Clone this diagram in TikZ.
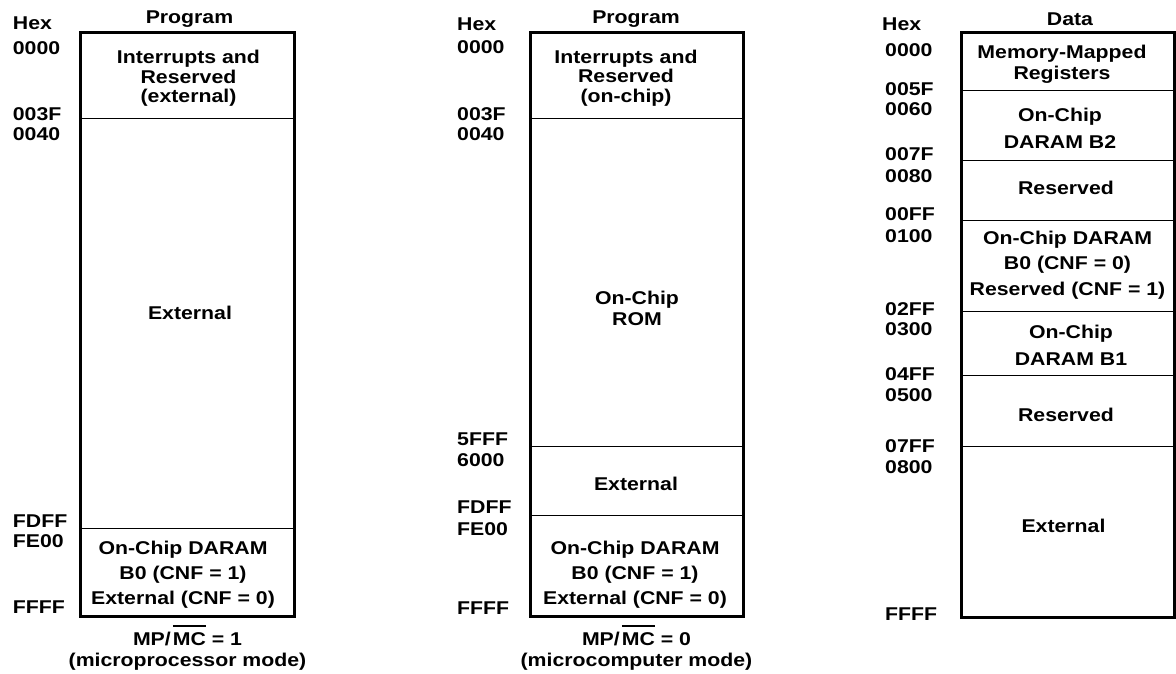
\documentclass[tikz,border=0pt]{standalone}
\usepackage{fontspec}
\setmainfont{Liberation Sans}[FakeStretch=1.15]
\newcommand\ovbar[1]{\setbox0\hbox{#1}\rlap{\rule[18.5pt]{\wd0}{2.2pt}}\box0\relax}
\tikzset{
  frame/.style={line width=3pt, line join=miter},
  divline/.style={line width=1pt},
  lbl/.style={inner sep=0pt, font=\fontsize{18.5}{22}\selectfont\bfseries},
  hexlbl/.style={lbl, anchor=base west},
  hdr/.style={lbl, anchor=base},
  one/.style={lbl, anchor=base},
  blk/.style={inner sep=0pt, align=center, anchor=center, font=\fontsize{18.5}{#1}\selectfont\bfseries},
}
\begin{document}
\begin{tikzpicture}[x=1pt,y=-1pt]
\useasboundingbox (0,0) rectangle (1176,673);

% ---------------- Left map: microprocessor mode ----------------
\node[hdr] (lprog) at (189.5,23) {Program};
\node[hexlbl] (lhex) at (12.7,29.3) {Hex};
\node[hexlbl] (l0000) at (12.7,54.3) {0000};
\node[hexlbl] (l003F) at (12.7,120) {003F};
\node[hexlbl] (l0040) at (12.7,140) {0040};
\node[hexlbl] (lFDFF) at (12.7,527) {FDFF};
\node[hexlbl] (lFE00) at (12.7,547) {FE00};
\node[hexlbl] (lFFFF) at (12.7,613) {FFFF};
\draw[frame] (80,32.7) rectangle (294,616.7);
\draw[divline] (80,118.3) -- (294,118.3);
\draw[divline] (80,528.3) -- (294,528.3);
\node[blk=19.5] (lint) at (188.5,78.5) {Interrupts and\\Reserved\\(external)};
\node[one] (lext) at (190,319.5) {External};
\node[blk=25] (lb0) at (183,574.5) {On-Chip DARAM\\B0 (CNF = 1)\\External (CNF = 0)};
\node[blk=21] (lcap) at (187.5,647.5) {MP/\kern2pt\ovbar{MC} = 1\\(microprocessor mode)};

% ---------------- Middle map: microcomputer mode ----------------
\node[hdr] (mprog) at (636,23) {Program};
\node[hexlbl] (mhex) at (457,30) {Hex};
\node[hexlbl] (m0000) at (457,53) {0000};
\node[hexlbl] (m003F) at (457,120) {003F};
\node[hexlbl] (m0040) at (457,140) {0040};
\node[hexlbl] (m5FFF) at (457,445) {5FFF};
\node[hexlbl] (m6000) at (457,466.7) {6000};
\node[hexlbl] (mFDFF) at (457,513) {FDFF};
\node[hexlbl] (mFE00) at (457,535) {FE00};
\node[hexlbl] (mFFFF) at (457,614) {FFFF};
\draw[frame] (530.7,32.7) rectangle (743.3,616);
\draw[divline] (530.7,118.3) -- (743.3,118.3);
\draw[divline] (530.7,446.7) -- (743.3,446.7);
\draw[divline] (530.7,515.7) -- (743.3,515.7);
\node[blk=19.5] (mint) at (626,78) {Interrupts and\\Reserved\\(on-chip)};
\node[blk=21] (mrom) at (637,308.5) {On-Chip\\ROM};
\node[one] (mext) at (636,490.6) {External};
\node[blk=25] (mb0) at (635,574.5) {On-Chip DARAM\\B0 (CNF = 1)\\External (CNF = 0)};
\node[blk=21] (mcap) at (636.5,647.5) {MP/\kern2pt\ovbar{MC} = 0\\(microcomputer mode)};

% ---------------- Right map: data ----------------
\node[hdr] (ddata) at (1070,25) {Data};
\node[hexlbl] (dhex) at (882,30) {Hex};
\node[hexlbl] (d0000) at (885,56.7) {0000};
\node[hexlbl] (d005F) at (885,95) {005F};
\node[hexlbl] (d0060) at (885,115) {0060};
\node[hexlbl] (d007F) at (885,160) {007F};
\node[hexlbl] (d0080) at (885,182) {0080};
\node[hexlbl] (d00FF) at (885,220) {00FF};
\node[hexlbl] (d0100) at (885,242.5) {0100};
\node[hexlbl] (d02FF) at (885,315) {02FF};
\node[hexlbl] (d0300) at (885,335) {0300};
\node[hexlbl] (d04FF) at (885,380) {04FF};
\node[hexlbl] (d0500) at (885,401.7) {0500};
\node[hexlbl] (d07FF) at (885,452) {07FF};
\node[hexlbl] (d0800) at (885,473) {0800};
\node[hexlbl] (dFFFF) at (885,620) {FFFF};
\draw[frame] (961.7,32.7) rectangle (1174,617.3);
\draw[divline] (961.7,90) -- (1174,90);
\draw[divline] (961.7,160) -- (1174,160);
\draw[divline] (961.7,220) -- (1174,220);
\draw[divline] (961.7,311.7) -- (1174,311.7);
\draw[divline] (961.7,375) -- (1174,375);
\draw[divline] (961.7,446.5) -- (1174,446.5);
\node[blk=21.7] (dmmr) at (1062,64.4) {Memory-Mapped\\Registers};
\node[blk=26.7] (db2) at (1060,128.4) {On-Chip\\DARAM B2};
\node[one] (dres1) at (1066,194) {Reserved};
\node[blk=25.5] (db0) at (1067.5,265) {On-Chip DARAM\\B0 (CNF = 0)\\Reserved (CNF = 1)};
\node[blk=26.8] (db1) at (1071,345) {On-Chip\\DARAM B1};
\node[one] (dres2) at (1066,421) {Reserved};
\node[one] (dext) at (1063.5,532) {External};
\end{tikzpicture}
\end{document}
